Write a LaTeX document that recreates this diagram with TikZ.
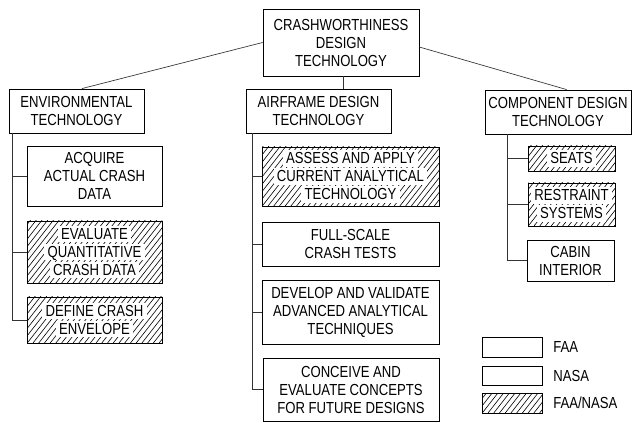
\documentclass[tikz,border=0pt]{standalone}
\usepackage{fontspec}
\setmainfont{Liberation Sans}[FakeStretch=0.82]
\usetikzlibrary{fit,calc}
\begin{document}
\begin{tikzpicture}[x=0.75pt,y=-0.75pt,
  font=\fontsize{12}{13.5}\selectfont,
  frame/.style={draw=black,line width=0.6pt,fill=white,inner sep=0pt},
  hatchline/.style={draw=black,line width=0.45pt},
  hatched/.style={frame,
    path picture={
      \foreach \k in {0,...,50}{
        \draw[hatchline] ($(path picture bounding box.south west)+(\k*4.3pt-60pt,0)$) -- ++(60pt,76.8pt);
      }
    }},
  txt/.style={align=center,inner sep=0pt},
  wline/.style={fill=white,inner xsep=2.5pt,inner ysep=1.6pt,text depth=0.5pt},
  link/.style={draw=black!80,line width=0.5pt},
  key/.style={anchor=west,inner sep=0pt}]
\useasboundingbox (0,0) rectangle (634,423);

% top level
\node[frame,fit={(263,9) (419,76)}] (top) {};
\node[txt] (ttop) at (top) {CRASHWORTHINESS\\DESIGN\\TECHNOLOGY};

% second level
\node[frame,fit={(9,89) (144,133)}] (env) {};
\node[txt] (tenv) at (env) {ENVIRONMENTAL\\TECHNOLOGY};
\node[frame,fit={(246,89) (391,133)}] (air) {};
\node[txt] (tair) at (air) {AIRFRAME DESIGN\\TECHNOLOGY};
\node[frame,fit={(485,90) (631,134)}] (comp) {};
\node[txt] (tcomp) at (comp) {COMPONENT DESIGN\\TECHNOLOGY};

% environmental branch
\node[frame,fit={(27,146) (162,206)}] (acq) {};
\node[txt] (tacq) at (acq) {ACQUIRE\\ACTUAL CRASH\\DATA};
\node[hatched,fit={(27,221) (162,283)}] (eval) {};
\node[wline] (teval1) at ([yshift=13.5pt]eval.center) {EVALUATE};
\node[wline] (teval2) at (eval.center) {QUANTITATIVE};
\node[wline] (teval3) at ([yshift=-13.5pt]eval.center) {CRASH DATA};
\node[hatched,fit={(27,297) (162,343)}] (def) {};
\node[wline] (tdef1) at ([yshift=6.75pt]def.center) {DEFINE CRASH};
\node[wline] (tdef2) at ([yshift=-6.75pt]def.center) {ENVELOPE};

% airframe branch
\node[hatched,fit={(262,147) (439,206)}] (assess) {};
\node[wline] (tassess1) at ([yshift=13.5pt]assess.center) {ASSESS AND APPLY};
\node[wline] (tassess2) at (assess.center) {CURRENT ANALYTICAL};
\node[wline] (tassess3) at ([yshift=-13.5pt]assess.center) {TECHNOLOGY};
\node[frame,fit={(262,222) (439,266)}] (full) {};
\node[txt] (tfull) at (full) {FULL-SCALE\\CRASH TESTS};
\node[frame,fit={(262,280) (439,344)}] (dev) {};
\node[txt] (tdev) at (dev) {DEVELOP AND VALIDATE\\ADVANCED ANALYTICAL\\TECHNIQUES};
\node[frame,fit={(263,358) (439,421)}] (conc) {};
\node[txt] (tconc) at (conc) {CONCEIVE AND\\EVALUATE CONCEPTS\\FOR FUTURE DESIGNS};

% component branch
\node[hatched,fit={(528,146) (615,171)}] (seats) {};
\node[wline] (tseats) at (seats.center) {SEATS};
\node[hatched,fit={(528,183) (615,226)}] (restr) {};
\node[wline] (trestr1) at ([yshift=6.75pt]restr.center) {RESTRAINT};
\node[wline] (trestr2) at ([yshift=-6.75pt]restr.center) {SYSTEMS};
\node[frame,fit={(527,240) (614,281)}] (cabin) {};
\node[txt] (tcabin) at (cabin) {CABIN\\INTERIOR};

% links from the top box
\draw[link] (top.west) -- ([xshift=4pt]env.north);
\draw[link] ([yshift=-3.4pt]top.east) -- ([xshift=6.5pt]comp.north);
\draw[link] ([xshift=1.5pt]top.south) -- ([xshift=1.5pt]top.south |- air.north);

% environmental spine
\coordinate (es) at ([xshift=3pt]env.south west);
\draw[link] (es) |- (def.west);
\draw[link] (acq.west) -- (acq.west -| es);
\draw[link] (eval.west) -- (eval.west -| es);

% airframe spine
\coordinate (as) at ([xshift=5.25pt]air.south west);
\draw[link] (as) |- (conc.west);
\draw[link] (assess.west) -- (assess.west -| as);
\draw[link] (full.west) -- (full.west -| as);
\draw[link] (dev.west) -- (dev.west -| as);

% component spine
\coordinate (cs) at ([xshift=17.25pt]comp.south west);
\draw[link] (cs) |- (cabin.west);
\draw[link] (seats.west) -- (seats.west -| cs);
\draw[link] (restr.west) -- (restr.west -| cs);

% key
\node[frame,fit={(482,337) (542,357)}] (kfaa) {};
\node[frame,fit={(482,366) (542,385)}] (knasa) {};
\node[hatched,fit={(482,393) (542,413)}] (kboth) {};
\node[key] (lfaa) at (553,347) {FAA};
\node[key] (lnasa) at (553,375.5) {NASA};
\node[key] (lboth) at (553,403) {FAA/NASA};
\end{tikzpicture}
\end{document}
